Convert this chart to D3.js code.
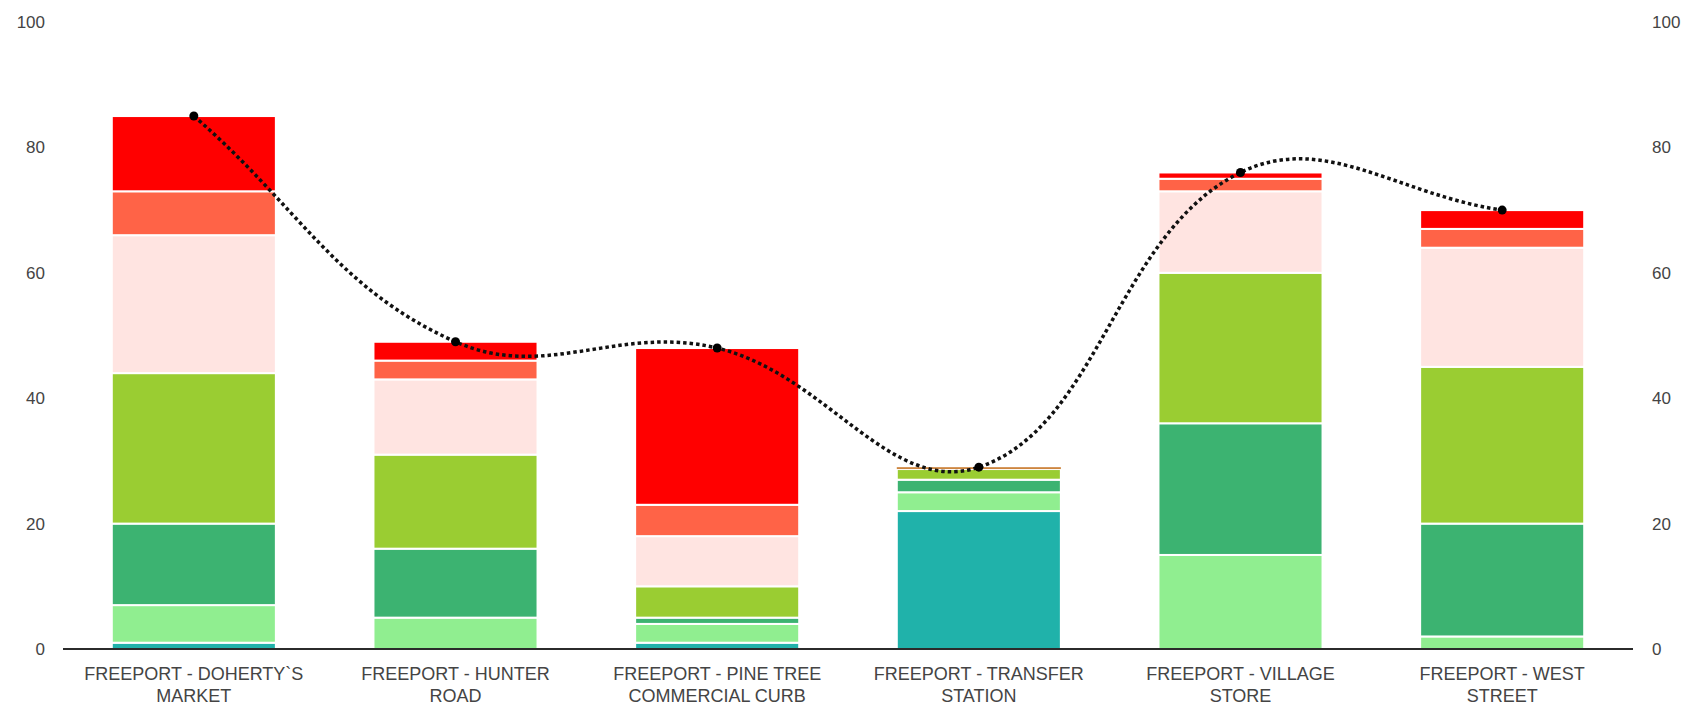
<!DOCTYPE html>
<html>
<head>
<meta charset="utf-8">
<script src="https://cdn.jsdelivr.net/npm/d3@7"></script>
<style>
  html, body { margin: 0; padding: 0; background: #fff; }
  svg { display: block; }
  text { font-family: "Liberation Sans", Arial, sans-serif; }
</style>
</head>
<body>
<svg id="chart" width="1684" height="704"></svg>
<script>
// ---------- data ----------
const categories = [
  "FREEPORT - DOHERTY`S MARKET",
  "FREEPORT - HUNTER ROAD",
  "FREEPORT - PINE TREE COMMERCIAL CURB",
  "FREEPORT - TRANSFER STATION",
  "FREEPORT - VILLAGE STORE",
  "FREEPORT - WEST STREET"
];
const tickLabelLines = [
  ["FREEPORT - DOHERTY`S", "MARKET"],
  ["FREEPORT - HUNTER", "ROAD"],
  ["FREEPORT - PINE TREE", "COMMERCIAL CURB"],
  ["FREEPORT - TRANSFER", "STATION"],
  ["FREEPORT - VILLAGE", "STORE"],
  ["FREEPORT - WEST", "STREET"]
];
const yTicks = [0, 20, 40, 60, 80, 100];

// stacked series, bottom to top
const seriesNames  = ["s1", "s2", "s3", "s4", "s5", "s6", "s7", "s8"];
const seriesColors = ["#20B2AA", "#90EE90", "#3CB371", "#9ACD32", "#CD853F", "#FFE4E1", "#FF6347", "#FF0000"];
const s1 = [1, 0, 1, 22, 0, 0];
const s2 = [6, 5, 3, 3, 15, 2];
const s3 = [13, 11, 1, 2, 21, 18];
const s4 = [24, 15, 5, 1.7, 24, 25];
const s5 = [0, 0, 0, 0.3, 0, 0];
const s6 = [22, 12, 8, 0, 13, 19];
const s7 = [7, 3, 5, 0, 2, 3];
const s8 = [12, 3, 25, 0, 1, 3];
const seriesValues = [s1, s2, s3, s4, s5, s6, s7, s8];

// line series
const lineValues = [85, 49, 48, 29, 76, 70];

// ---------- build ----------
const svg = d3.select("#chart");

const x = d3.scaleBand()
  .domain(categories)
  .range([63, 1633])
  .paddingInner(0.373)
  .paddingOuter(0.1865);

const y = d3.scaleLinear().domain([0, 100]).range([649, 22]);

const table = categories.map((c, i) => {
  const row = { cat: c };
  seriesNames.forEach((n, k) => row[n] = seriesValues[k][i]);
  return row;
});
const stacked = d3.stack().keys(seriesNames)(table);

const gBars = svg.append("g");
stacked.forEach((layer, k) => {
  gBars.selectAll(null)
    .data(layer.filter(d => d[1] - d[0] > 0))
    .join("rect")
    .attr("x", d => x(d.data.cat))
    .attr("width", x.bandwidth())
    .attr("y", d => y(d[1]))
    .attr("height", d => y(d[0]) - y(d[1]))
    .attr("fill", seriesColors[k])
    .attr("stroke", d => (y(d[0]) - y(d[1]) > 4 ? "#fff" : "none"))
    .attr("stroke-width", 2);
});

// baseline
svg.append("line")
  .attr("x1", x.range()[0]).attr("x2", x.range()[1])
  .attr("y1", y(0)).attr("y2", y(0))
  .attr("stroke", "#2b2b2b").attr("stroke-width", 2);

// left axis
const leftAxis = d3.axisLeft(y).tickValues(yTicks).tickSize(0).tickPadding(0);
const gl = svg.append("g").attr("transform", "translate(45,0)").call(leftAxis);
gl.select(".domain").remove();
gl.selectAll("text").attr("font-size", 17).attr("fill", "#444")
  .attr("font-family", "'Liberation Sans', Arial, sans-serif");

// right axis
const rightAxis = d3.axisRight(y).tickValues(yTicks).tickSize(0).tickPadding(0);
const gr = svg.append("g").attr("transform", "translate(1652,0)").call(rightAxis);
gr.select(".domain").remove();
gr.selectAll("text").attr("font-size", 17).attr("fill", "#444")
  .attr("font-family", "'Liberation Sans', Arial, sans-serif");

// x axis labels (two lines)
const xAxis = d3.axisBottom(x).tickSize(0).tickFormat(() => "");
const gx = svg.append("g").attr("transform", `translate(0,${y(0)})`).call(xAxis);
gx.select(".domain").remove();
gx.selectAll(".tick").each(function(d, i) {
  const t = d3.select(this).append("text")
    .attr("text-anchor", "middle")
    .attr("fill", "#444")
    .attr("font-size", 18)
    .attr("font-family", "'Liberation Sans', Arial, sans-serif");
  tickLabelLines[i].forEach((ln, j) => {
    t.append("tspan").attr("x", 0).attr("y", 31 + j * 21.5).text(ln);
  });
});

// Chart.js-style spline (tension 0.4)
function splineCurve(context) {
  let pts = [];
  return {
    areaStart() {}, areaEnd() {},
    lineStart() { pts = []; },
    point(px, py) { pts.push([+px, +py]); },
    lineEnd() {
      const n = pts.length, t = 0.4;
      if (!n) return;
      const cps = pts.map((cur, i) => {
        const prev = pts[Math.max(0, i - 1)], next = pts[Math.min(n - 1, i + 1)];
        const d01 = Math.hypot(cur[0] - prev[0], cur[1] - prev[1]);
        const d12 = Math.hypot(next[0] - cur[0], next[1] - cur[1]);
        let s01 = d01 / (d01 + d12), s12 = d12 / (d01 + d12);
        if (!isFinite(s01)) s01 = 0;
        if (!isFinite(s12)) s12 = 0;
        const fa = t * s01, fb = t * s12;
        return {
          p: [cur[0] - fa * (next[0] - prev[0]), cur[1] - fa * (next[1] - prev[1])],
          n: [cur[0] + fb * (next[0] - prev[0]), cur[1] + fb * (next[1] - prev[1])]
        };
      });
      context.moveTo(pts[0][0], pts[0][1]);
      for (let i = 1; i < n; i++) {
        context.bezierCurveTo(cps[i - 1].n[0], cps[i - 1].n[1], cps[i].p[0], cps[i].p[1], pts[i][0], pts[i][1]);
      }
    }
  };
}

const cx = (d, i) => x(categories[i]) + x.bandwidth() / 2;
const line = d3.line().x(cx).y(d => y(d)).curve(splineCurve);

svg.append("path")
  .datum(lineValues)
  .attr("d", line)
  .attr("fill", "none")
  .attr("stroke", "#111")
  .attr("stroke-width", 3.5)
  .attr("stroke-dasharray", "3.5 3");

svg.append("g").selectAll("circle")
  .data(lineValues)
  .join("circle")
  .attr("cx", cx)
  .attr("cy", d => y(d))
  .attr("r", 4.5)
  .attr("fill", "#000");
</script>
</body>
</html>
